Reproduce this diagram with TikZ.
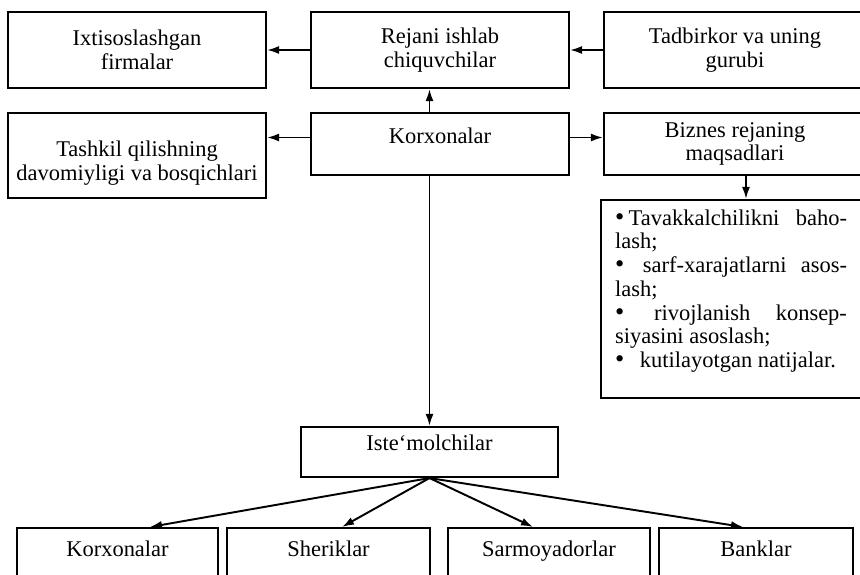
\documentclass[tikz,border=0pt]{standalone}
\usepackage{fontspec}
\setmainfont{Liberation Serif}
\usetikzlibrary{arrows.meta}
\newcommand{\nuqta}{{\fontsize{15}{13.5}\selectfont\textbullet}\kern2.5pt}
\tikzset{
  blok/.style={draw, line width=1.2pt, align=center, inner sep=0pt, font=\fontsize{12.8}{13.5}\selectfont},
  strelka/.style={-{Latex[length=2.4mm,width=1.6mm]}, line width=1.1pt},
  yuqori/.style={text height=9pt, text depth=#1},
}
\begin{document}
\begin{tikzpicture}[x=0.02cm, y=-0.02cm]
        \useasboundingbox (0,0) rectangle (860,575);
        \clip (0,0) rectangle (860,575);
        \node[blok, minimum width=5.16cm, minimum height=1.52cm] (ixt) at (137,50) {Ixtisoslashgan\\firmalar};
        \node[blok, minimum width=5.16cm, minimum height=1.52cm] (rej) at (440,50) {Rejani ishlab\\chiquvchilar};
        \node[blok, minimum width=5.24cm, minimum height=1.52cm] (tad) at (735,50) {Tadbirkor va uning\\gurubi};
        \node[blok, text height=31.2pt, text depth=2.8pt, minimum width=5.16cm, minimum height=1.7cm] (tash) at (137,155.5) {Tashkil qilishning\\davomiyligi va bosqichlari};
        \node[blok, yuqori=10pt, minimum width=5.16cm, minimum height=1.24cm] (kor) at (440,144) {Korxonalar};
        \node[blok, minimum width=5.24cm, minimum height=1.24cm] (biz) at (735,144) {Biznes rejaning\\maqsadlari};
        \node[blok, yuqori=93pt, align=justify, text width=4.64cm, minimum width=5.2cm, minimum height=3.96cm] (bul) at (731,299)
            {\nuqta Tavakkalchilikni baho-\linebreak lash;\\
             \nuqta\ sarf-xarajatlarni asos-\linebreak lash;\\
             \nuqta\ rivojlanish konsep-\linebreak siyasini asoslash;\\
             \nuqta\ \ kutilayotgan natijalar.};
        \node[blok, yuqori=11pt, minimum width=5.14cm, minimum height=1cm] (iste) at (429.5,452) {Iste`molchilar};
        \node[blok, yuqori=18pt, minimum width=4.02cm, minimum height=1.44cm] (kb1) at (117.5,564) {Korxonalar};
        \node[blok, yuqori=18pt, minimum width=4.06cm, minimum height=1.44cm] (kb2) at (328.5,564) {Sheriklar};
        \node[blok, yuqori=18pt, minimum width=4.04cm, minimum height=1.44cm] (kb3) at (549,564) {Sarmoyadorlar};
        \node[blok, yuqori=18pt, minimum width=3.88cm, minimum height=1.44cm] (kb4) at (756,564) {Banklar};
        \draw[strelka] (rej.west) -- (ixt.east);
        \draw[strelka] (tad.west) -- (rej.east);
        \draw[strelka] (iste.north |- kor.north) -- (iste.north |- rej.south);
        \draw[strelka] ([yshift=0.13cm]kor.west) -- ([yshift=0.13cm]kor.west -| tash.east);
        \draw[strelka] ([yshift=0.13cm]kor.east) -- ([yshift=0.13cm]kor.east -| biz.west);
        \draw[strelka] ([xshift=0.22cm]biz.south) -- ([xshift=0.22cm]biz.south |- bul.north);
        \draw[strelka] (iste.north |- kor.south) -- (iste.north);
        \draw[strelka] (iste.south) -- ([xshift=0.65cm]kb1.north);
        \draw[strelka] (iste.south) -- ([xshift=0.27cm]kb2.north);
        \draw[strelka] (iste.south) -- ([xshift=-0.32cm]kb3.north);
        \draw[strelka] (iste.south) -- ([xshift=-0.26cm]kb4.north);
    \end{tikzpicture}
\end{document}
